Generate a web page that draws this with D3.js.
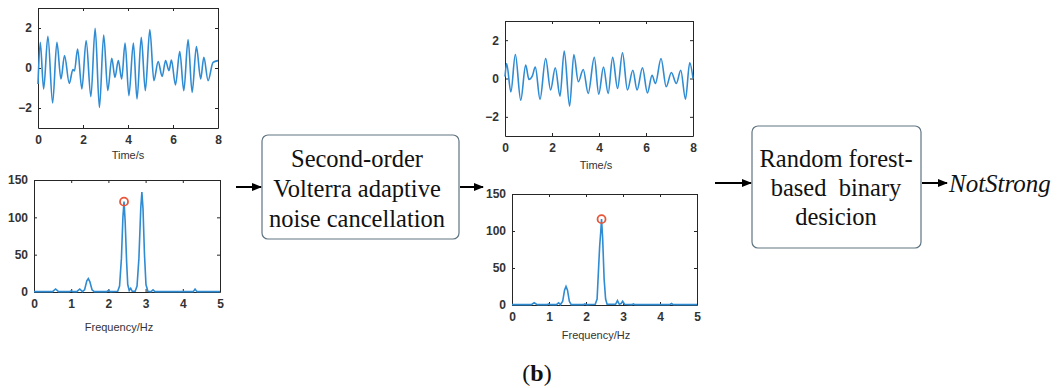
<!DOCTYPE html>
<html>
<head>
<meta charset="utf-8">
<title>Second-order Volterra ANC pipeline</title>
<script src="https://d3js.org/d3.v7.min.js"></script>
<style>
  body { margin: 0; background: #fff; }
  svg text { font-family: Arial, "Liberation Sans", sans-serif; }
  .axis path, .axis line { stroke: #262626; }
  .axis text { fill: #333; font-size: 12px; font-weight: bold; }
  .xlabel { font-size: 11px; fill: #333; }
  .box text { font-family: "Liberation Serif", "Times New Roman", serif; font-size: 24.5px; fill: #111; }
</style>
</head>
<body>
<script>
// raw signal extrema [time s, amplitude]
const rawSignal = [
  [0, -0.8], [0.10, 1.28], [0.25, -1.05], [0.44, 1.58], [0.65, -1.75], [0.84, 1.28],
  [1.02, -0.55], [1.18, 0.62], [1.39, -0.77], [1.55, -0.08], [1.62, -0.15], [1.76, 0.95],
  [1.95, -1.05], [2.14, 1.37], [2.35, -1.43], [2.54, 1.98], [2.73, -1.97], [2.92, 1.65],
  [3.10, -1.13], [3.28, 0.48], [3.42, -0.47], [3.57, 0.37], [3.72, -0.55], [3.87, 1.25],
  [4.04, -1.38], [4.24, 1.25], [4.40, -1.55], [4.59, 1.53], [4.77, -1.13], [4.97, 1.92],
  [5.15, -0.63], [5.34, 0.32], [5.52, -0.42], [5.67, 0.37], [5.82, -0.13], [5.93, 0.40],
  [6.11, -0.85], [6.30, 0.82], [6.48, -1.13], [6.67, 1.42], [6.85, -1.22], [7.04, 1.07],
  [7.23, -0.55], [7.37, 0.53], [7.56, -0.63], [7.78, 0.28], [8.0, 0.37]
];

// denoised signal extrema [time s, amplitude]
const cleanSignal = [
  [0, 0.1], [0.07, 0.78], [0.25, -0.70], [0.44, 1.25], [0.67, -1.13], [0.88, 0.70],
  [1.02, -0.05], [1.16, 0.12], [1.29, 0.60], [1.49, -1.08], [1.73, 1.04], [1.94, -0.60],
  [2.14, 0.56], [2.34, -0.92], [2.52, 1.43], [2.75, -1.44], [2.93, 1.25], [3.12, -0.17],
  [3.33, 0.47], [3.54, -0.78], [3.80, 1.10], [3.99, -0.82], [4.19, 0.60], [4.39, -0.78],
  [4.58, 1.10], [4.79, -0.52], [5.00, 1.34], [5.21, -0.60], [5.44, 0.43], [5.62, -0.60],
  [5.85, 0.56], [6.06, -0.75], [6.26, 0.17], [6.40, -0.26], [6.64, 1.04], [6.86, -0.43],
  [7.08, 0.31], [7.29, -0.26], [7.48, 0.43], [7.68, -1.08], [7.86, 0.82], [8.0, 0.0]
];

// raw spectrum [Hz, magnitude]
const rawSpectrum = [
  [0, 0.5], [0.5, 0.5], [0.58, 4], [0.66, 0.5], [0.95, 0.5], [1.0, 1.5], [1.05, 0.5],
  [1.15, 0.5], [1.23, 4], [1.3, 0.5], [1.36, 3], [1.42, 15], [1.46, 18], [1.5, 14],
  [1.56, 3], [1.62, 0.5], [1.95, 0.5], [2.0, 2], [2.05, 0.5], [2.25, 1], [2.3, 8],
  [2.35, 45], [2.39, 100], [2.42, 121], [2.45, 95], [2.49, 40], [2.52, 10], [2.56, 2],
  [2.6, 5], [2.64, 1], [2.72, 1], [2.77, 8], [2.82, 45], [2.87, 112], [2.9, 134],
  [2.93, 112], [2.97, 50], [3.01, 10], [3.06, 1], [3.15, 0.5], [3.2, 3], [3.25, 0.5],
  [4.28, 0.5], [4.33, 4], [4.38, 0.5], [5, 0.5]
];

// denoised spectrum [Hz, magnitude]
const cleanSpectrum = [
  [0, 0.5], [0.52, 0.5], [0.6, 3], [0.68, 0.5], [0.95, 0.5], [0.99, 1.5], [1.03, 0.5],
  [1.2, 0.5], [1.26, 3], [1.31, 0.5], [1.37, 5], [1.42, 20], [1.46, 25], [1.5, 20],
  [1.55, 5], [1.6, 0.5], [1.93, 0.5], [1.97, 1.5], [2.01, 0.5], [2.25, 1], [2.3, 8],
  [2.35, 60], [2.37, 80], [2.4, 100], [2.42, 116], [2.45, 90], [2.49, 35], [2.53, 8],
  [2.57, 1], [2.8, 1], [2.85, 6], [2.9, 1], [2.95, 2], [2.99, 5], [3.04, 1], [3.24, 0.5],
  [3.28, 1.5], [3.32, 0.5], [4.26, 0.5], [4.31, 2], [4.36, 0.5], [5, 0.5]
];

const peakMarks = { raw: [2.42, 121], clean: [2.42, 116] };

const timeTicksX = [0, 2, 4, 6, 8];
const timeTicksY = [-2, 0, 2];
const freqTicksX = [0, 1, 2, 3, 4, 5];
const freqTicksY = [0, 50, 100, 150];

const boxOneLines = ["Second-order", "Volterra adaptive", "noise cancellation"];
const boxTwoLines = ["Random forest-", "based\u00a0 binary", "desicion"];

const W = 1059, H = 388;
const lineColor = "#2f8bd2";
const markColor = "#e8563a";
const intFmt = d3.format("d");

const svg = d3.select("body").append("svg")
  .attr("width", W)
  .attr("height", H);

const defs = svg.append("defs");
defs.append("marker")
  .attr("id", "arrow")
  .attr("viewBox", "0 0 10 10")
  .attr("refX", 9).attr("refY", 5)
  .attr("markerWidth", 5).attr("markerHeight", 5)
  .attr("orient", "auto")
  .append("path")
  .attr("d", "M0,1 L10,5 L0,9 Z")
  .attr("fill", "#000");

function drawPanel(cfg) {
  const g = svg.append("g");
  const x = d3.scaleLinear().domain(cfg.xDomain).range([cfg.left, cfg.right]);
  const y = d3.scaleLinear().domain(cfg.yDomain).range([cfg.bottom, cfg.top]);

  // axes (inward ticks, box style)
  g.append("g").attr("class", "axis")
    .attr("transform", `translate(0,${cfg.bottom})`)
    .call(d3.axisBottom(x).tickValues(cfg.xTicks).tickFormat(intFmt)
      .tickSizeInner(-3).tickSizeOuter(0).tickPadding(7));
  g.append("g").attr("class", "axis")
    .attr("transform", `translate(${cfg.left},0)`)
    .call(d3.axisLeft(y).tickValues(cfg.yTicks).tickFormat(intFmt)
      .tickSizeInner(-3).tickSizeOuter(0).tickPadding(6));
  g.append("g").attr("class", "axis")
    .attr("transform", `translate(0,${cfg.top})`)
    .call(d3.axisTop(x).tickValues(cfg.xTicks).tickSizeInner(-3).tickSizeOuter(0).tickFormat(""));
  g.append("g").attr("class", "axis")
    .attr("transform", `translate(${cfg.right},0)`)
    .call(d3.axisRight(y).tickValues(cfg.yTicks).tickSizeInner(-3).tickSizeOuter(0).tickFormat(""));

  g.append("path")
    .datum(cfg.data)
    .attr("fill", "none")
    .attr("stroke", lineColor)
    .attr("stroke-width", 1.6)
    .attr("d", d3.line().x(d => x(d[0])).y(d => y(d[1])).curve(cfg.curve));

  if (cfg.mark) {
    g.append("circle")
      .attr("cx", x(cfg.mark[0]))
      .attr("cy", y(cfg.mark[1]))
      .attr("r", 4)
      .attr("fill", "none")
      .attr("stroke", markColor)
      .attr("stroke-width", 1.8);
  }

  g.append("text")
    .attr("class", "xlabel")
    .attr("x", cfg.labelX)
    .attr("y", cfg.labelY)
    .attr("text-anchor", "middle")
    .text(cfg.label);
}

drawPanel({
  left: 38, right: 218, top: 8, bottom: 128,
  xDomain: [0, 8], yDomain: [-3, 3], xTicks: timeTicksX, yTicks: timeTicksY,
  data: rawSignal, curve: d3.curveMonotoneX,
  label: "Time/s", labelX: 128, labelY: 159
});
drawPanel({
  left: 34, right: 220, top: 180, bottom: 292,
  xDomain: [0, 5], yDomain: [0, 150], xTicks: freqTicksX, yTicks: freqTicksY,
  data: rawSpectrum, curve: d3.curveLinear, mark: peakMarks.raw,
  label: "Frequency/Hz", labelX: 119, labelY: 331
});
drawPanel({
  left: 505, right: 693, top: 21, bottom: 136,
  xDomain: [0, 8], yDomain: [-3, 3], xTicks: timeTicksX, yTicks: timeTicksY,
  data: cleanSignal, curve: d3.curveMonotoneX,
  label: "Time/s", labelX: 596, labelY: 169
});
drawPanel({
  left: 512, right: 697, top: 194, bottom: 305,
  xDomain: [0, 5], yDomain: [0, 150], xTicks: freqTicksX, yTicks: freqTicksY,
  data: cleanSpectrum, curve: d3.curveLinear, mark: peakMarks.clean,
  label: "Frequency/Hz", labelX: 596, labelY: 339
});

// processing boxes
function drawBox(x0, y0, w, h, lines, cx, baselines) {
  const g = svg.append("g").attr("class", "box");
  g.append("rect")
    .attr("x", x0).attr("y", y0)
    .attr("width", w).attr("height", h)
    .attr("rx", 6).attr("ry", 6)
    .attr("fill", "#fff")
    .attr("stroke", "#5f7482")
    .attr("stroke-width", 1.2);
  g.selectAll("text.l").data(lines).enter().append("text")
    .attr("class", "l")
    .attr("x", cx)
    .attr("y", (d, i) => baselines[i])
    .attr("text-anchor", "middle")
    .text(d => d);
}
drawBox(262, 135, 197, 104, boxOneLines, 357, [167, 197, 227]);
drawBox(752, 126, 169, 122, boxTwoLines, 836, [167, 196, 225]);

// arrows
function arrow(x1, x2, yy) {
  svg.append("line")
    .attr("x1", x1).attr("x2", x2)
    .attr("y1", yy).attr("y2", yy)
    .attr("stroke", "#000")
    .attr("stroke-width", 2)
    .attr("marker-end", "url(#arrow)");
}
arrow(236, 261, 187);
arrow(460, 483, 187);
arrow(715, 751, 183);
arrow(922, 947, 183);

svg.append("text")
  .attr("x", 949).attr("y", 192)
  .style("font-family", "'Liberation Serif', 'Times New Roman', serif")
  .style("font-size", "25px")
  .style("font-style", "italic")
  .attr("fill", "#111")
  .text("NotStrong");

const cap = svg.append("text")
  .attr("x", 537).attr("y", 381)
  .attr("text-anchor", "middle")
  .style("font-family", "'Liberation Serif', 'Times New Roman', serif")
  .style("font-size", "24px")
  .attr("fill", "#111");
cap.append("tspan").text("(");
cap.append("tspan").style("font-weight", "bold").text("b");
cap.append("tspan").text(")");
</script>
</body>
</html>
